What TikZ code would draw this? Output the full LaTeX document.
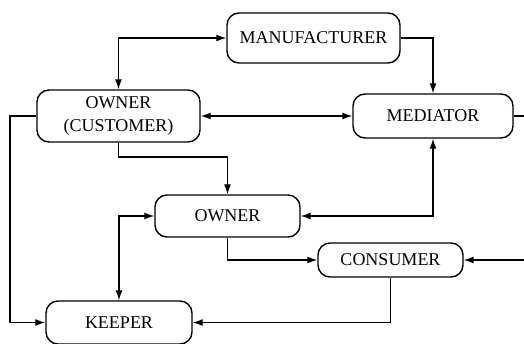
\documentclass[tikz,border=0pt]{standalone}
\usepackage{fontspec}
\setmainfont{Liberation Serif}
\usetikzlibrary{arrows.meta}
\begin{document}
\begin{tikzpicture}[x=1pt,y=-1pt,
  box/.style={draw, line width=1.4pt, rounded corners=12pt, inner sep=0pt,
    font=\fontsize{18}{23}\selectfont, align=center},
  tip/.style={},
  conn/.style={line width=1.3pt, -{Latex[length=10pt,width=7pt]}},
  bconn/.style={line width=1.3pt, {Latex[length=10pt,width=7pt]}-{Latex[length=10pt,width=7pt]}}]
\useasboundingbox (0,0) rectangle (524,343);
\node[box, minimum width=173pt, minimum height=50pt] (man) at (313.5,38) {MANUFACTURER};
\node[box, minimum width=163pt, minimum height=52pt] (oc) at (118.5,116) {OWNER\\(CUSTOMER)};
\node[box, minimum width=160pt, minimum height=44pt] (med) at (433,116) {MEDIATOR};
\node[box, minimum width=145pt, minimum height=42pt] (ow) at (227.5,216) {OWNER};
\node[box, minimum width=145pt, minimum height=34pt] (con) at (390.5,260) {CONSUMER};
\node[box, minimum width=146pt, minimum height=43pt] (kp) at (119,322.5) {KEEPER};
\coordinate (lft) at (10,116);
\coordinate (redge1) at (524,116);
\coordinate (redge2) at (524,260);
\coordinate (bend1) at (118.5,157);
\draw[bconn] (oc.north) |- (man.west);
\draw[conn] (man.east) -| (med.north);
\draw[bconn] (oc.east) -- (med.west);
\draw[conn] (oc.south) -- (bend1) -| (ow.north);
\draw[bconn] (ow.east) -| (med.south);
\draw[bconn] (ow.west) -| (kp.north);
\draw[conn] (ow.south) |- (con.west);
\draw[conn] (con.south) |- (kp.east);
\draw[conn] (oc.west) -- (lft) |- (kp.west);
\draw[line width=1.3pt] (med.east) -- (redge1);
\draw[conn] (redge2) -- (con.east);
\end{tikzpicture}
\end{document}
